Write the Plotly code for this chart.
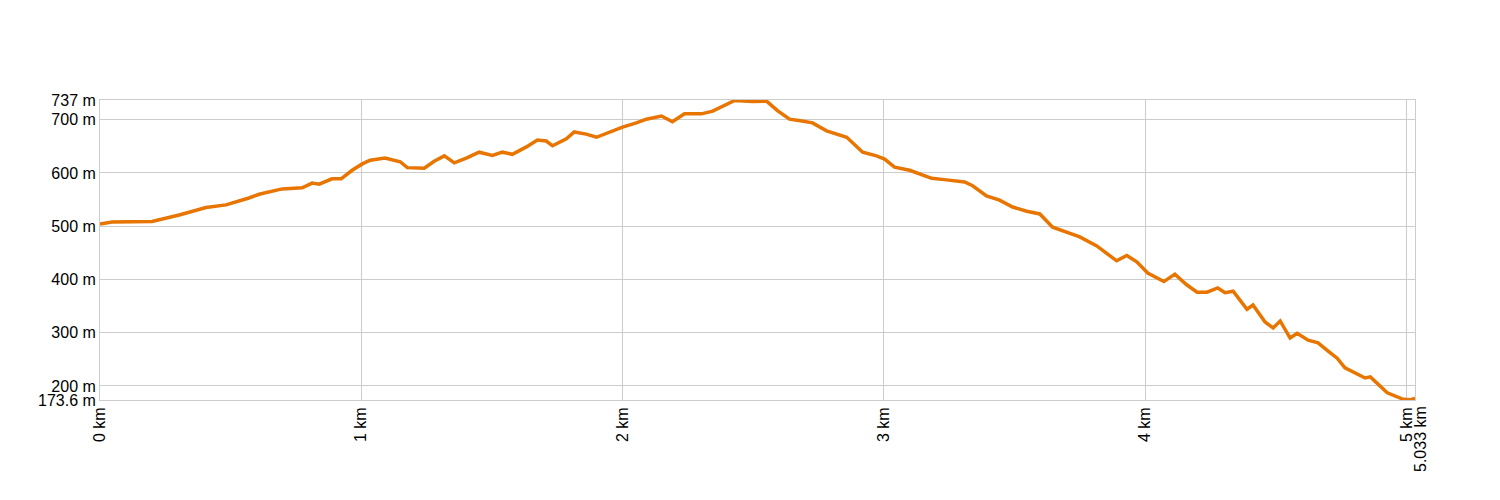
import plotly.graph_objects as go

# distance (km) and elevation (m)
dist_km = [0.0, 0.046, 0.199, 0.303, 0.406, 0.482, 0.570, 0.609, 0.697, 0.774,
           0.812, 0.839, 0.888, 0.923, 0.965, 1.004, 1.034, 1.091, 1.149, 1.176,
           1.241, 1.279, 1.318, 1.356, 1.402, 1.451, 1.502, 1.540, 1.578, 1.632,
           1.674, 1.708, 1.732, 1.785, 1.815, 1.861, 1.900, 1.950, 2.000, 2.053,
           2.091, 2.149, 2.191, 2.237, 2.302, 2.345, 2.398, 2.429, 2.498, 2.551,
           2.593, 2.639, 2.681, 2.727, 2.781, 2.831, 2.858, 2.919, 2.972, 3.003,
           3.041, 3.099, 3.145, 3.183, 3.240, 3.309, 3.340, 3.393, 3.443, 3.493,
           3.547, 3.597, 3.646, 3.697, 3.750, 3.815, 3.891, 3.930, 3.968, 4.010,
           4.072, 4.114, 4.159, 4.199, 4.237, 4.278, 4.306, 4.337, 4.390, 4.413,
           4.459, 4.490, 4.517, 4.555, 4.582, 4.624, 4.662, 4.697, 4.735, 4.765,
           4.842, 4.862, 4.900, 4.927, 4.988, 5.015, 5.033]
elev_m = [504, 508, 509, 521, 535, 540, 553, 560, 570, 572,
          581, 579, 589, 589, 605, 617, 624, 628, 621, 610,
          609, 622, 632, 619, 628, 639, 633, 639, 635, 649,
          662, 660, 651, 664, 677, 673, 667, 677, 686, 694,
          701, 707, 696, 711, 711, 716, 729, 736, 734, 735,
          717, 701, 698, 694, 679, 671, 667, 639, 632, 626,
          611, 605, 596, 590, 587, 583, 576, 557, 549, 536,
          528, 523, 498, 489, 480, 463, 435, 445, 433, 412,
          396, 410, 390, 376, 376, 384, 375, 378, 344, 352,
          320, 309, 322, 290, 299, 286, 281, 267, 252, 234,
          215, 217, 200, 187, 175, 174, 177]

y_ticks = [173.6, 200, 300, 400, 500, 600, 700, 737]
y_labels = ['173.6 m', '200 m', '300 m', '400 m', '500 m', '600 m', '700 m', '737 m']
x_ticks = [0, 1, 2, 3, 4, 5, 5.033]
x_labels = ['0 km', '1 km', '2 km', '3 km', '4 km', '5 km', '']
end_label = '5.033 km'

fig = go.Figure()

fig.add_trace(go.Scatter(
    x=dist_km,
    y=elev_m,
    mode='lines',
    line=dict(color='#e87500', width=3.5),
    hovertemplate='%{x:.3f} km<br>%{y:.0f} m<extra></extra>'
))

# end-of-track label sits just right of the 5 km label instead of on top of it
fig.add_annotation(
    x=x_ticks[-1], y=0, xref='x', yref='paper',
    text=end_label, showarrow=False, textangle=-90,
    xanchor='center', yanchor='top', xshift=5, yshift=-4,
    font=dict(family='Liberation Sans, Arial, sans-serif', size=16, color='black'),
)

# page body adds an 8px offset, so margins are trimmed to match
fig.update_layout(
    width=1500,
    height=500,
    margin=dict(l=92, r=93, t=92, b=108),
    showlegend=False,
    plot_bgcolor='white',
    paper_bgcolor='white',
    font=dict(family='Liberation Sans, Arial, sans-serif', size=16, color='black'),
    xaxis=dict(
        range=[0, 5.033],
        tickvals=x_ticks,
        ticktext=x_labels,
        tickangle=-90,
        showgrid=True,
        gridcolor='#cccccc',
        gridwidth=1,
        showline=True,
        linecolor='#cccccc',
        mirror=True,
        zeroline=False,
        ticks='',
    ),
    yaxis=dict(
        range=[173.6, 737],
        tickvals=y_ticks,
        ticktext=y_labels,
        showgrid=True,
        gridcolor='#cccccc',
        gridwidth=1,
        showline=True,
        linecolor='#cccccc',
        mirror=True,
        zeroline=False,
        ticks='',
    ),
)

fig.write_html("out.html")
